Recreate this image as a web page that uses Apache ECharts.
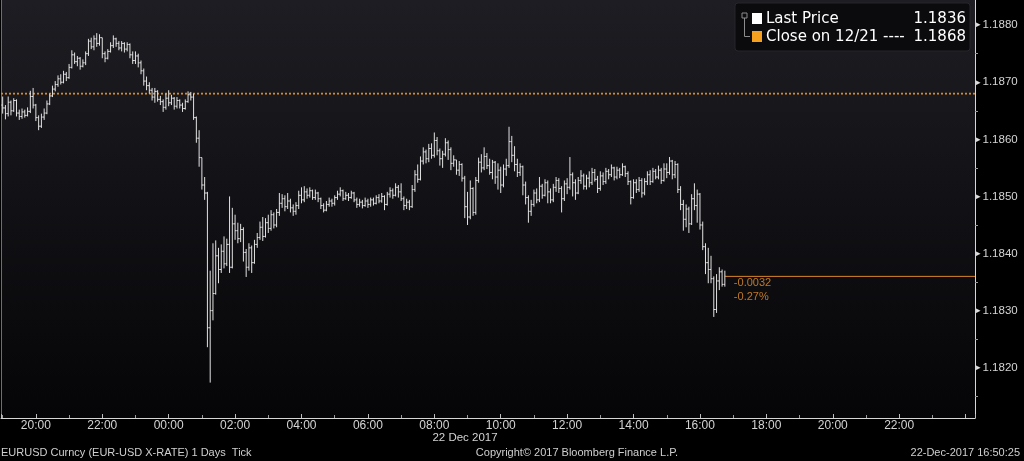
<!DOCTYPE html>
<html><head><meta charset="utf-8">
<script src="https://cdn.jsdelivr.net/npm/echarts@6/dist/echarts.min.js"></script>
<style>html,body{margin:0;padding:0;background:#000;overflow:hidden}#c{width:1024px;height:461px}</style>
</head><body><div id="c"></div>
<script>
// 5-minute bars; x measured in hours since 21 Dec 2017 00:00
const firstBarHour = 19;          // 21 Dec 19:00
const barMinutes = 5;
const axisStartHour = 18 + 57 / 60; // 21 Dec 18:57
const axisEndHour = 48 + 17 / 60;   // 23 Dec 00:17

const opens = [
1.18660,1.18655,1.18645,1.18665,1.18650,1.18668,1.18646,1.18640,1.18648,1.18642,1.18649,1.18675,
1.18660,1.18638,1.18623,1.18639,1.18646,1.18662,1.18676,1.18688,1.18696,1.18706,1.18700,1.18714,
1.18708,1.18726,1.18748,1.18736,1.18742,1.18728,1.18734,1.18750,1.18772,1.18762,1.18776,1.18768,
1.18778,1.18750,1.18742,1.18754,1.18764,1.18776,1.18768,1.18760,1.18768,1.18758,1.18766,1.18748,
1.18738,1.18746,1.18734,1.18720,1.18702,1.18694,1.18686,1.18674,1.18684,1.18670,1.18666,1.18656,
1.18672,1.18664,1.18672,1.18658,1.18668,1.18660,1.18654,1.18666,1.18678,1.18674,1.18638,1.18602,
1.18568,1.18520,1.18506,1.18270,1.18300,1.18330,1.18396,1.18372,1.18404,1.18382,1.18416,1.18376,
1.18452,1.18440,1.18426,1.18442,1.18402,1.18376,1.18410,1.18384,1.18416,1.18428,1.18446,1.18430,
1.18454,1.18444,1.18468,1.18450,1.18472,1.18488,1.18496,1.18482,1.18492,1.18480,1.18474,1.18484,
1.18502,1.18494,1.18508,1.18502,1.18510,1.18498,1.18506,1.18496,1.18484,1.18476,1.18486,1.18492,
1.18488,1.18498,1.18504,1.18510,1.18496,1.18502,1.18498,1.18506,1.18494,1.18486,1.18490,1.18484,
1.18492,1.18486,1.18494,1.18488,1.18498,1.18492,1.18500,1.18486,1.18504,1.18510,1.18502,1.18516,
1.18508,1.18496,1.18484,1.18490,1.18482,1.18512,1.18538,1.18530,1.18562,1.18578,1.18566,1.18584,
1.18572,1.18598,1.18580,1.18566,1.18574,1.18594,1.18582,1.18558,1.18564,1.18546,1.18556,1.18532,
1.18482,1.18464,1.18514,1.18472,1.18528,1.18560,1.18550,1.18570,1.18554,1.18542,1.18560,1.18534,
1.18546,1.18520,1.18548,1.18554,1.18596,1.18572,1.18556,1.18542,1.18552,1.18520,1.18498,1.18474,
1.18486,1.18506,1.18494,1.18518,1.18502,1.18524,1.18508,1.18494,1.18516,1.18528,1.18514,1.18496,
1.18522,1.18516,1.18538,1.18524,1.18506,1.18528,1.18536,1.18518,1.18532,1.18524,1.18542,1.18530,
1.18514,1.18536,1.18526,1.18544,1.18538,1.18550,1.18534,1.18546,1.18538,1.18552,1.18540,1.18526,
1.18498,1.18524,1.18512,1.18528,1.18506,1.18526,1.18538,1.18526,1.18544,1.18534,1.18546,1.18528,
1.18548,1.18542,1.18562,1.18538,1.18556,1.18512,1.18486,1.18460,1.18478,1.18452,1.18496,1.18484,
1.18504,1.18450,1.18412,1.18384,1.18372,1.18356,1.18302,1.18352,1.18368,1.18346
];
const highs = [
1.18675,1.18660,1.18675,1.18668,1.18672,1.18670,1.18652,1.18654,1.18652,1.18656,1.18685,1.18690,
1.18662,1.18642,1.18645,1.18654,1.18668,1.18680,1.18694,1.18702,1.18712,1.18714,1.18720,1.18718,
1.18732,1.18756,1.18752,1.18746,1.18744,1.18740,1.18754,1.18776,1.18778,1.18782,1.18786,1.18784,
1.18778,1.18754,1.18758,1.18770,1.18782,1.18778,1.18772,1.18772,1.18770,1.18770,1.18768,1.18754,
1.18754,1.18750,1.18738,1.18724,1.18710,1.18700,1.18690,1.18690,1.18686,1.18676,1.18670,1.18680,
1.18686,1.18678,1.18674,1.18674,1.18670,1.18664,1.18670,1.18684,1.18683,1.18680,1.18640,1.18616,
1.18568,1.18534,1.18508,1.18370,1.18418,1.18423,1.18410,1.18416,1.18430,1.18426,1.18500,1.18480,
1.18468,1.18454,1.18452,1.18446,1.18408,1.18418,1.18414,1.18424,1.18436,1.18456,1.18464,1.18462,
1.18468,1.18476,1.18472,1.18478,1.18506,1.18504,1.18502,1.18506,1.18496,1.18486,1.18490,1.18510,
1.18516,1.18518,1.18514,1.18516,1.18512,1.18512,1.18508,1.18498,1.18488,1.18492,1.18498,1.18496,
1.18502,1.18510,1.18516,1.18512,1.18508,1.18506,1.18510,1.18508,1.18498,1.18496,1.18494,1.18498,
1.18496,1.18498,1.18498,1.18502,1.18504,1.18506,1.18502,1.18508,1.18516,1.18514,1.18523,1.18520,
1.18523,1.18500,1.18496,1.18494,1.18520,1.18546,1.18556,1.18570,1.18586,1.18582,1.18592,1.18593,
1.18612,1.18604,1.18584,1.18580,1.18602,1.18598,1.18586,1.18572,1.18564,1.18562,1.18558,1.18536,
1.18508,1.18528,1.18516,1.18534,1.18568,1.18574,1.18586,1.18576,1.18566,1.18564,1.18562,1.18558,
1.18552,1.18556,1.18566,1.18622,1.18606,1.18588,1.18566,1.18558,1.18554,1.18526,1.18502,1.18494,
1.18512,1.18514,1.18534,1.18522,1.18530,1.18528,1.18514,1.18522,1.18534,1.18532,1.18518,1.18528,
1.18532,1.18569,1.18542,1.18530,1.18534,1.18546,1.18540,1.18538,1.18544,1.18550,1.18548,1.18536,
1.18544,1.18542,1.18550,1.18548,1.18556,1.18552,1.18552,1.18550,1.18558,1.18554,1.18544,1.18528,
1.18530,1.18530,1.18534,1.18532,1.18532,1.18544,1.18546,1.18550,1.18548,1.18554,1.18550,1.18558,
1.18558,1.18569,1.18564,1.18562,1.18558,1.18518,1.18494,1.18486,1.18482,1.18504,1.18523,1.18512,
1.18506,1.18456,1.18418,1.18410,1.18396,1.18360,1.18364,1.18376,1.18372,1.18370
];
const lows = [
1.18645,1.18635,1.18640,1.18642,1.18648,1.18640,1.18634,1.18636,1.18638,1.18640,1.18646,1.18654,
1.18632,1.18616,1.18620,1.18634,1.18644,1.18660,1.18674,1.18684,1.18692,1.18696,1.18698,1.18702,
1.18706,1.18724,1.18732,1.18728,1.18722,1.18726,1.18730,1.18746,1.18758,1.18756,1.18762,1.18764,
1.18742,1.18735,1.18740,1.18752,1.18760,1.18762,1.18756,1.18754,1.18752,1.18754,1.18742,1.18732,
1.18732,1.18726,1.18714,1.18694,1.18686,1.18680,1.18668,1.18664,1.18666,1.18660,1.18648,1.18652,
1.18658,1.18660,1.18652,1.18654,1.18654,1.18648,1.18652,1.18664,1.18668,1.18634,1.18594,1.18552,
1.18512,1.18494,1.18236,1.18174,1.18283,1.18328,1.18348,1.18366,1.18374,1.18378,1.18366,1.18374,
1.18424,1.18418,1.18420,1.18386,1.18359,1.18370,1.18366,1.18382,1.18410,1.18424,1.18422,1.18428,
1.18436,1.18440,1.18444,1.18446,1.18466,1.18480,1.18474,1.18478,1.18472,1.18466,1.18468,1.18478,
1.18488,1.18490,1.18496,1.18498,1.18494,1.18494,1.18490,1.18478,1.18472,1.18474,1.18482,1.18482,
1.18484,1.18494,1.18500,1.18492,1.18494,1.18492,1.18496,1.18490,1.18480,1.18482,1.18479,1.18482,
1.18480,1.18482,1.18484,1.18486,1.18488,1.18489,1.18476,1.18484,1.18498,1.18496,1.18500,1.18498,
1.18492,1.18476,1.18478,1.18476,1.18480,1.18508,1.18524,1.18528,1.18556,1.18558,1.18560,1.18566,
1.18568,1.18572,1.18554,1.18550,1.18570,1.18564,1.18546,1.18552,1.18538,1.18536,1.18526,1.18462,
1.18450,1.18460,1.18466,1.18468,1.18524,1.18542,1.18546,1.18548,1.18538,1.18530,1.18522,1.18512,
1.18506,1.18516,1.18536,1.18550,1.18560,1.18544,1.18534,1.18536,1.18502,1.18486,1.18454,1.18466,
1.18482,1.18488,1.18490,1.18496,1.18500,1.18488,1.18488,1.18490,1.18508,1.18506,1.18472,1.18492,
1.18504,1.18512,1.18500,1.18494,1.18504,1.18522,1.18512,1.18512,1.18516,1.18520,1.18526,1.18506,
1.18510,1.18520,1.18522,1.18530,1.18534,1.18528,1.18530,1.18532,1.18536,1.18534,1.18520,1.18486,
1.18496,1.18506,1.18508,1.18498,1.18502,1.18520,1.18520,1.18524,1.18530,1.18530,1.18522,1.18526,
1.18532,1.18538,1.18530,1.18532,1.18506,1.18476,1.18440,1.18446,1.18436,1.18450,1.18476,1.18454,
1.18442,1.18406,1.18364,1.18348,1.18348,1.18289,1.18296,1.18336,1.18342,1.18342
];
const closes = [
1.18655,1.18645,1.18665,1.18650,1.18668,1.18646,1.18640,1.18648,1.18642,1.18649,1.18675,1.18660,
1.18638,1.18623,1.18639,1.18646,1.18662,1.18676,1.18688,1.18696,1.18706,1.18700,1.18714,1.18708,
1.18726,1.18748,1.18736,1.18742,1.18728,1.18734,1.18750,1.18772,1.18762,1.18776,1.18768,1.18778,
1.18750,1.18742,1.18754,1.18764,1.18776,1.18768,1.18760,1.18768,1.18758,1.18766,1.18748,1.18738,
1.18746,1.18734,1.18720,1.18702,1.18694,1.18686,1.18674,1.18684,1.18670,1.18666,1.18656,1.18672,
1.18664,1.18672,1.18658,1.18668,1.18660,1.18654,1.18666,1.18678,1.18674,1.18638,1.18602,1.18568,
1.18520,1.18506,1.18270,1.18300,1.18330,1.18396,1.18372,1.18404,1.18382,1.18416,1.18376,1.18452,
1.18440,1.18426,1.18442,1.18402,1.18376,1.18410,1.18384,1.18416,1.18428,1.18446,1.18430,1.18454,
1.18444,1.18468,1.18450,1.18472,1.18488,1.18496,1.18482,1.18492,1.18480,1.18474,1.18484,1.18502,
1.18494,1.18508,1.18502,1.18510,1.18498,1.18506,1.18496,1.18484,1.18476,1.18486,1.18492,1.18488,
1.18498,1.18504,1.18510,1.18496,1.18502,1.18498,1.18506,1.18494,1.18486,1.18490,1.18484,1.18492,
1.18486,1.18494,1.18488,1.18498,1.18492,1.18500,1.18486,1.18504,1.18510,1.18502,1.18516,1.18508,
1.18496,1.18484,1.18490,1.18482,1.18512,1.18538,1.18530,1.18562,1.18578,1.18566,1.18584,1.18572,
1.18598,1.18580,1.18566,1.18574,1.18594,1.18582,1.18558,1.18564,1.18546,1.18556,1.18532,1.18482,
1.18464,1.18514,1.18472,1.18528,1.18560,1.18550,1.18570,1.18554,1.18542,1.18560,1.18534,1.18546,
1.18520,1.18548,1.18554,1.18596,1.18572,1.18556,1.18542,1.18552,1.18520,1.18498,1.18474,1.18486,
1.18506,1.18494,1.18518,1.18502,1.18524,1.18508,1.18494,1.18516,1.18528,1.18514,1.18496,1.18522,
1.18516,1.18538,1.18524,1.18506,1.18528,1.18536,1.18518,1.18532,1.18524,1.18542,1.18530,1.18514,
1.18536,1.18526,1.18544,1.18538,1.18550,1.18534,1.18546,1.18538,1.18552,1.18540,1.18526,1.18498,
1.18524,1.18512,1.18528,1.18506,1.18526,1.18538,1.18526,1.18544,1.18534,1.18546,1.18528,1.18548,
1.18542,1.18562,1.18538,1.18556,1.18512,1.18486,1.18460,1.18478,1.18452,1.18496,1.18484,1.18504,
1.18450,1.18412,1.18384,1.18372,1.18356,1.18302,1.18352,1.18368,1.18346,1.18360
];

const prevClose = 1.1868;
const lastLabel = 'Last Price';
const closeLabel = 'Close on 12/21 ----';
const dateLabel = '22 Dec 2017';
const footerLeft = 'EURUSD Curncy (EUR-USD X-RATE) 1 Days  Tick';
const footerMid = 'Copyright\u00a9 2017 Bloomberg Finance L.P.';
const footerRight = '22-Dec-2017 16:50:25';
const yMin = 1.18112, yMax = 1.18844;

const ohlc = closes.map((c, i) => [firstBarHour + i * barMinutes / 60, opens[i], highs[i], lows[i], c]);
const lastIdx = closes.length - 1;
const lastX = ohlc[lastIdx][0];
const lastPrice = closes[lastIdx];
const chg = lastPrice - prevClose;
const pct = chg / prevClose * 100;

const pad = n => (n < 10 ? '0' : '') + n;
const isWhole = v => Math.abs(v - Math.round(v)) < 1e-6;
const FONT = 'Liberation Sans';
const BAR = '#e2e2e2';
const ORANGE = '#d9862c';

const chart = echarts.init(document.getElementById('c'));
chart.setOption({
  backgroundColor: '#000',
  animation: false,
  grid: {
    left: 1, right: 49, top: 0, bottom: 43, show: true, borderWidth: 0,
    backgroundColor: new echarts.graphic.LinearGradient(0, 0, 0, 1, [
      {offset: 0, color: '#1d1d23'}, {offset: 1, color: '#050507'}
    ])
  },
  xAxis: {
    type: 'value', min: axisStartHour, max: axisEndHour, splitNumber: 14,
    axisLine: {lineStyle: {color: '#d6d6d6', width: 1}},
    axisTick: {show: true, inside: true, length: 4, lineStyle: {color: '#bdbdbd'}},
    minorTick: {show: true, splitNumber: 2, length: 3, lineStyle: {color: '#9a9a9a'}},
    splitLine: {show: false},
    axisLabel: {
      color: '#d4d4d4', fontFamily: FONT, fontSize: 12, margin: 2,
      showMinLabel: false, showMaxLabel: false,
      formatter: v => (isWhole(v) && v < axisEndHour - 0.6) ? pad(Math.round(v) % 24) + ':00' : ''
    }
  },
  yAxis: [{
    type: 'value', position: 'right', min: yMin, max: yMax, splitNumber: 5,
    axisLine: {show: true, lineStyle: {color: '#d6d6d6'}},
    axisTick: {show: false},
    minorTick: {show: true, splitNumber: 2, length: 3, lineStyle: {color: '#9a9a9a'}},
    splitLine: {show: false},
    axisLabel: {
      showMinLabel: false, showMaxLabel: false, margin: 1,
      formatter: v => (isWhole(v * 1000) ? '{t|\u25B8}{v|' + v.toFixed(4) + '}' : ''),
      rich: {
        t: {color: '#e0e0e0', fontSize: 9, fontFamily: 'DejaVu Sans', padding: [0, 2, 0, 0]},
        v: {color: '#d4d4d4', fontSize: 11.5, fontFamily: FONT}
      }
    }
  }, {
    type: 'value', position: 'left', min: yMin, max: yMax,
    axisLine: {show: true, lineStyle: {color: '#6e6e6e'}},
    axisTick: {show: false}, axisLabel: {show: false}, splitLine: {show: false}
  }],
  series: [{
    type: 'custom', name: lastLabel,
    data: ohlc,
    encode: {x: 0, y: [1, 2, 3, 4]},
    clip: true,
    renderItem: (params, api) => {
      const t = api.value(0);
      const pO = api.coord([t, api.value(1)]);
      const pH = api.coord([t, api.value(2)]);
      const pL = api.coord([t, api.value(3)]);
      const pC = api.coord([t, api.value(4)]);
      const st = {stroke: BAR, lineWidth: 1};
      return {type: 'group', children: [
        {type: 'line', shape: {x1: pH[0], y1: pH[1], x2: pL[0], y2: pL[1]}, style: st},
        {type: 'line', shape: {x1: pO[0] - 1.3, y1: pO[1], x2: pO[0], y2: pO[1]}, style: st},
        {type: 'line', shape: {x1: pC[0], y1: pC[1], x2: pC[0] + 1.3, y2: pC[1]}, style: st}
      ]};
    }
  }, {
    type: 'line', name: 'prevClose', silent: true, symbol: 'none',
    data: [[axisStartHour, prevClose], [axisEndHour, prevClose]],
    lineStyle: {color: '#d88a30', width: 1.8, type: [2, 2]}, z: 1
  }, {
    type: 'line', name: 'lastLine', silent: true, symbol: 'none',
    data: [[lastX, lastPrice], [axisEndHour, lastPrice]],
    lineStyle: {color: ORANGE, width: 1}
  }, {
    type: 'scatter', silent: true, symbolSize: 0,
    data: [[lastX, lastPrice]],
    label: {
      show: true, position: [9, 0], align: 'left', verticalAlign: 'top',
      color: '#e8922f', fontFamily: FONT, fontSize: 11, lineHeight: 14,
      formatter: () => chg.toFixed(4) + '\n' + pct.toFixed(2) + '%'
    }
  }],
  graphic: [
    {type: 'rect', shape: {x: 735, y: 3, width: 235, height: 48, r: 3}, style: {fill: '#0b0b0e', stroke: '#26262b', lineWidth: 1}, z: 10},
    {type: 'rect', shape: {x: 742, y: 13, width: 5, height: 5}, style: {fill: 'none', stroke: '#8c8c8c', lineWidth: 1}, z: 11},
    {type: 'polyline', shape: {points: [[744.5, 18], [744.5, 36.5], [750, 36.5]]}, style: {stroke: '#8c8c8c', lineWidth: 1, fill: 'none'}, z: 11},
    {type: 'rect', shape: {x: 752, y: 13, width: 10, height: 11}, style: {fill: '#ffffff'}, z: 11},
    {type: 'rect', shape: {x: 752, y: 31, width: 10, height: 11}, style: {fill: '#f5a01e'}, z: 11},
    {type: 'text', x: 766, y: 19, style: {text: lastLabel, fill: '#ffffff', font: '15px "DejaVu Sans"', verticalAlign: 'middle'}, z: 11},
    {type: 'text', x: 966, y: 19, style: {text: lastPrice.toFixed(4), fill: '#ffffff', font: '15px "DejaVu Sans"', align: 'right', verticalAlign: 'middle'}, z: 11},
    {type: 'text', x: 766, y: 37, style: {text: closeLabel, fill: '#ffffff', font: '15px "DejaVu Sans"', verticalAlign: 'middle'}, z: 11},
    {type: 'text', x: 966, y: 37, style: {text: prevClose.toFixed(4), fill: '#ffffff', font: '15px "DejaVu Sans"', align: 'right', verticalAlign: 'middle'}, z: 11},
    {type: 'text', x: 465, y: 438, style: {text: dateLabel, fill: '#d4d4d4', font: '11.5px "Liberation Sans"', align: 'center', verticalAlign: 'middle'}, z: 11},
    {type: 'text', x: 1, y: 453, style: {text: footerLeft, fill: '#cfcfcf', font: '11px "Liberation Sans"', verticalAlign: 'middle'}, z: 11},
    {type: 'text', x: 577, y: 453, style: {text: footerMid, fill: '#cfcfcf', font: '11px "Liberation Sans"', align: 'center', verticalAlign: 'middle'}, z: 11},
    {type: 'text', x: 1020, y: 453, style: {text: footerRight, fill: '#cfcfcf', font: '11px "Liberation Sans"', align: 'right', verticalAlign: 'middle'}, z: 11}
  ]
});
</script></body></html>
